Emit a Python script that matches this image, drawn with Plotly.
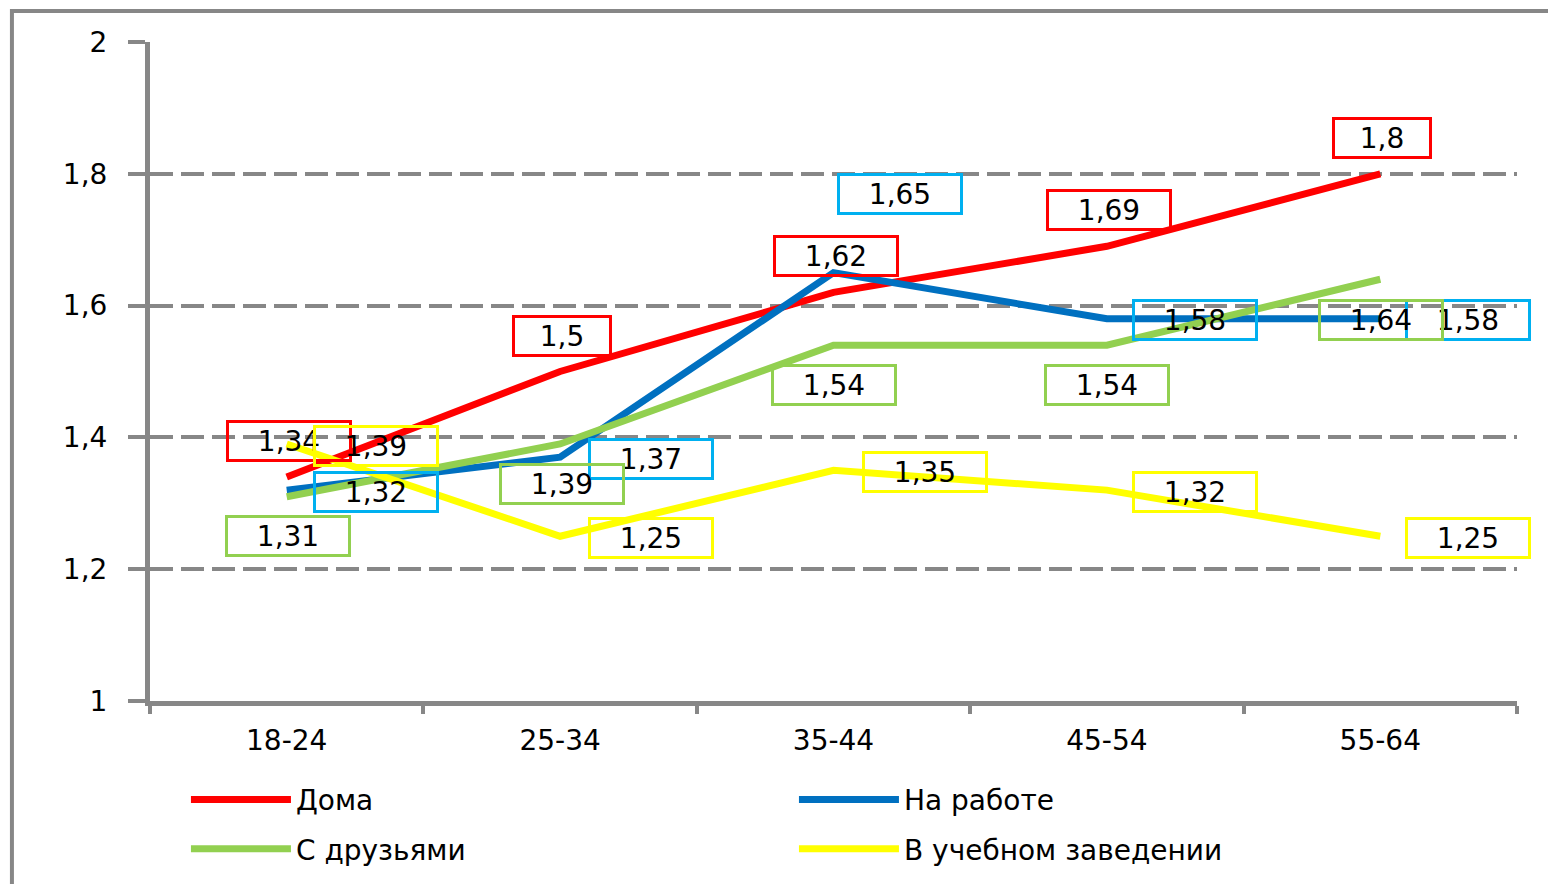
import plotly.graph_objects as go

categories = ["18-24", "25-34", "35-44", "45-54", "55-64"]
doma = [1.34, 1.5, 1.62, 1.69, 1.8]
rabota = [1.32, 1.37, 1.65, 1.58, 1.58]
druzya = [1.31, 1.39, 1.54, 1.54, 1.64]
ucheba = [1.39, 1.25, 1.35, 1.32, 1.25]
series_names = ["Дома", "На работе", "С друзьями", "В учебном заведении"]
y_ticks = [1, 1.2, 1.4, 1.6, 1.8, 2]

FONT = "DejaVu Sans"
FSIZE = 28
GRAY = "#878787"

series = [
    dict(name=series_names[0], y=doma, color="#FF0000", box="#FF0000", legend="legend",
         shifts=[(2, 36)] * 5),
    dict(name=series_names[1], y=rabota, color="#0070C0", box="#00B0F0", legend="legend",
         shifts=[(89, -2), (91, -2), (66, 79), (88, -1), (88, -1)]),
    dict(name=series_names[2], y=druzya, color="#92D050", box="#92D050", legend="legend2",
         shifts=[(1, -39), (2, -40), (0, -40), (0, -40), (1, -41)]),
    dict(name=series_names[3], y=ucheba, color="#FFFF00", box="#FFFF00", legend="legend2",
         shifts=[(89, -2), (91, -2), (91, -2), (88, -2), (88, -2)]),
]

fig = go.Figure()
for s in series:
    fig.add_trace(go.Scatter(
        x=categories, y=s["y"], mode="lines", name=s["name"], legend=s["legend"],
        line=dict(color=s["color"], width=7),
    ))

annotations = []
for s in series:
    for cat, val, (dx, dy) in zip(categories, s["y"], s["shifts"]):
        txt = ("%g" % val).replace(".", ",")
        annotations.append(dict(
            x=cat, y=val, xref="x", yref="y", text=txt, showarrow=False,
            xshift=dx, yshift=dy,
            font=dict(family=FONT, size=FSIZE, color="black"),
            bordercolor=s["box"], borderwidth=3, borderpad=0,
            bgcolor="rgba(0,0,0,0)",
            width=120 if len(txt) > 3 else 94, height=36,
            xanchor="center", yanchor="middle",
        ))

legend_common = dict(
    orientation="h", x=0.0263, xanchor="left", yanchor="middle",
    entrywidth=493, entrywidthmode="pixels", itemwidth=100,
    font=dict(family=FONT, size=FSIZE, color="black"),
    bgcolor="rgba(0,0,0,0)", traceorder="normal",
)

fig.update_layout(
    width=1556, height=884,
    margin=dict(l=142, r=47, t=34, b=191),
    paper_bgcolor="white", plot_bgcolor="white",
    separators=", ",
    font=dict(family=FONT, size=FSIZE, color="black"),
    annotations=annotations,
    showlegend=True,
    legend=dict(legend_common, y=-0.150),
    legend2=dict(legend_common, y=-0.2246),
    shapes=[dict(
        type="rect", xref="paper", yref="paper",
        x0=-0.101, x1=1.2, y0=-0.5, y1=1.047,
        line=dict(color=GRAY, width=4), layer="below",
    )],
)

fig.update_xaxes(
    type="category", range=[-0.5, 4.5],
    showline=True, linecolor=GRAY, linewidth=5,
    ticks="outside", tickson="boundaries", ticklen=8, tickwidth=4, tickcolor=GRAY,
    showgrid=False, ticklabelstandoff=10,
    tickfont=dict(family=FONT, size=FSIZE, color="black"),
)
fig.update_yaxes(
    range=[1, 2], tickvals=y_ticks,
    showline=True, linecolor=GRAY, linewidth=5,
    ticks="outside", ticklen=17, tickwidth=4, tickcolor=GRAY,
    showgrid=True, gridcolor=GRAY, gridwidth=4, griddash="23px,8px",
    zeroline=False, ticklabelstandoff=15,
    tickfont=dict(family=FONT, size=FSIZE, color="black"),
)

fig.write_html("out.html")
